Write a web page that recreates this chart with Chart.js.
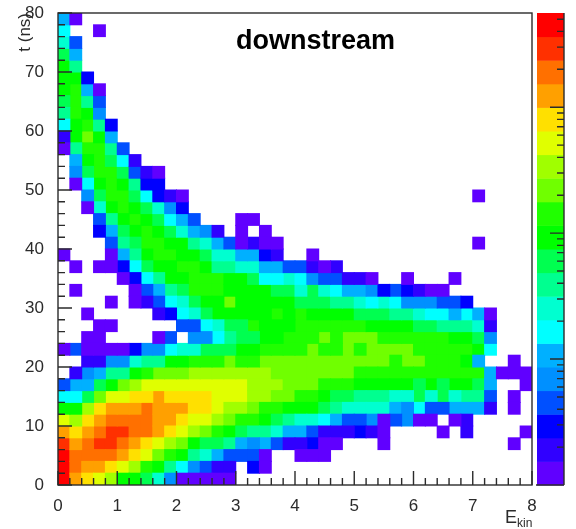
<!DOCTYPE html>
<html>
<head>
<meta charset="utf-8">
<script src="https://cdn.jsdelivr.net/npm/chart.js@4"></script>
<style>
  html, body { margin: 0; padding: 0; background: #fff; overflow: hidden; }
  canvas { display: block; }
</style>
</head>
<body>
<canvas id="chart" width="576" height="529"></canvas>
<script>
// palette of the colour bar, bottom to top
const paletteColors = [
  "#6000ff", "#3000ff", "#0000ff", "#0050ff", "#0090ff",
  "#00b0ff", "#00ffff", "#00ffd0", "#00ff90", "#00ff50",
  "#00ff00", "#20ff00", "#70ff00", "#a0ff00", "#e0ff00",
  "#ffe000", "#ffa000", "#ff7000", "#ff3000", "#ff0000"
];
const levelCodes = "0123456789abcdefghij";

// histogram cells, one string per t bin (top bin first), one char per E bin.
// each char is the palette level, "." = empty bin
const cellRows = [
  "50",
  "6..0",
  "73",
  "95",
  "a8",
  "aa2",
  "ab50",
  "9b83",
  "8ba4",
  "6ab82",
  "1aca5",
  "08bb83",
  ".5ab961",
  ".49bb9310",
  ".06aba822",
  "..49bb96210........................0",
  "..07aba9742",
  "...38aba9653...00",
  "...259aba97541.0.0",
  "....389bbaa87530100................0",
  "0...058abbaa9775521..0",
  ".0.00269aabba88775533101",
  ".....0268aabbbaa96676433110..0...0",
  ".0....03589bbbaaaa997976554232100",
  "....0.013679aacaaaaa999887676444332",
  "..0.....12679aaaaababaaaa999887665650",
  "...00.....336799baaabbbbbbaaaa9988871",
  "..00....03.446899aabbbcbcccbbbbbbaa94",
  "030000244677999aabbbbcbbcbccccbbbbba6",
  "..1144788aabbbcbbcccccccccccbccbbba5..0",
  ".14588abcccdddddddcccccccbbbbbbbbbbb5000",
  "3559acdeeeeeeeeedddcccbbbaaaaa9a9aa95..0",
  "669ceeffgffffeeeddccbba99888779797883.0",
  "aadfggghgggffeddcbbaaa987777546335551.0",
  "edfghhhhggfeedcbba98776533403400.01",
  "gfghiihhgfedcba98875531112 10....0.1....0".replace(" ", ""),
  "ighiihgfedca998545311200...0..........0",
  "jhhhhgfecba8753330..000",
  "jhggfedba864311.20",
  "jgfedaa97400000"
];

const eMax = 8, eBinWidth = 0.2;
const tMax = 80, tBinWidth = 2;
const zMin = 1, zMax = 5600;
const zDecades = { 1: "1", 10: "10", 100: "10\u00b2", 1000: "10\u00b3" };
const zTicks = [1, 2, 3, 4, 5, 6, 7, 8, 9, 10, 20, 30, 40, 50, 60, 70, 80, 90,
  100, 200, 300, 400, 500, 600, 700, 800, 900, 1000, 2000, 3000, 4000, 5000];

const axisFont = { family: "'Liberation Sans', Arial, sans-serif", size: 17 };
const inkColor = "#2b2b2b";

// one floating-bar dataset per palette level
const levelCells = paletteColors.map(() => []);
cellRows.forEach((row, r) => {
  const tHigh = tMax - r * tBinWidth;
  [...row].forEach((code, c) => {
    if (code === ".") return;
    levelCells[levelCodes.indexOf(code)].push({
      x: (c + 0.5) * eBinWidth,
      y: [tHigh - tBinWidth, tHigh]
    });
  });
});

const rootFrame = {
  id: "rootFrame",
  afterDatasetsDraw(chart) {
    const { ctx, chartArea: area, scales } = chart;
    const { x, y, z } = scales;
    ctx.save();

    // colour bar
    const barLeft = 537, barRight = 564;
    paletteColors.forEach((color, i) => {
      const bottom = z.getPixelForValue(Math.pow(zMax, i / paletteColors.length));
      const top = z.getPixelForValue(Math.pow(zMax, (i + 1) / paletteColors.length));
      ctx.fillStyle = color;
      ctx.fillRect(barLeft, top, barRight - barLeft, bottom - top + 0.5);
    });

    ctx.strokeStyle = inkColor;
    ctx.lineWidth = 1.4;
    ctx.strokeRect(area.left, area.top, area.right - area.left, area.bottom - area.top);

    ctx.beginPath();
    ctx.moveTo(barRight, area.top);
    ctx.lineTo(barRight, area.bottom);
    ctx.moveTo(barLeft - 1, area.bottom);
    ctx.lineTo(barRight, area.bottom);

    // ticks point inwards, root style
    x.ticks.forEach((tick) => {
      const px = x.getPixelForValue(tick.value);
      const isMajor = Math.abs(tick.value - Math.round(tick.value)) < 1e-6;
      ctx.moveTo(px, area.bottom);
      ctx.lineTo(px, area.bottom - (isMajor ? 14 : 7));
    });
    y.ticks.forEach((tick) => {
      const py = y.getPixelForValue(tick.value);
      ctx.moveTo(area.left, py);
      ctx.lineTo(area.left + (tick.value % 10 === 0 ? 14 : 7), py);
    });
    z.ticks.forEach((tick) => {
      const py = z.getPixelForValue(tick.value);
      ctx.moveTo(barRight, py);
      ctx.lineTo(barRight - (zDecades[tick.value] ? 14 : 7), py);
    });
    ctx.stroke();

    // title and axis names
    ctx.fillStyle = "#000";
    ctx.textBaseline = "alphabetic";
    ctx.textAlign = "left";
    ctx.font = "bold 27px 'Liberation Sans', Arial, sans-serif";
    ctx.fillText("downstream", 236, 49);

    ctx.fillStyle = inkColor;
    ctx.font = "18px 'Liberation Sans', Arial, sans-serif";
    ctx.fillText("E", 505, 523);
    ctx.font = "12px 'Liberation Sans', Arial, sans-serif";
    ctx.fillText("kin", 517, 527);

    ctx.translate(30, 13);
    ctx.rotate(-Math.PI / 2);
    ctx.textAlign = "right";
    ctx.font = "17px 'Liberation Sans', Arial, sans-serif";
    ctx.fillText("t (ns)", 0, 0);
    ctx.restore();
  }
};

// the axis boxes are fixed, no padding for labels that stick out
const fixedBox = (side, size) => (axis) => {
  axis[side] = size;
  axis.paddingTop = axis.paddingBottom = axis.paddingLeft = axis.paddingRight = 0;
};

new Chart(document.getElementById("chart"), {
  type: "bar",
  data: {
    datasets: levelCells.map((cells, i) => ({
      label: "level " + i,
      data: cells,
      backgroundColor: paletteColors[i],
      borderWidth: 0,
      inflateAmount: 0.5,
      grouped: false,
      barPercentage: 1,
      categoryPercentage: 1
    }))
  },
  plugins: [rootFrame],
  options: {
    responsive: false,
    animation: false,
    layout: { autoPadding: false, padding: { top: 13 } },
    plugins: { legend: { display: false }, tooltip: { enabled: false } },
    scales: {
      x: {
        type: "linear",
        offset: false,
        min: 0,
        max: eMax,
        afterFit: fixedBox("height", 44),
        grid: { display: false },
        border: { display: false },
        ticks: {
          stepSize: eBinWidth,
          autoSkip: false,
          maxRotation: 0,
          padding: 3,
          color: inkColor,
          font: axisFont,
          callback: (v) => (Math.abs(v - Math.round(v)) < 1e-6 ? String(Math.round(v)) : "")
        }
      },
      y: {
        type: "linear",
        min: 0,
        max: tMax,
        afterFit: fixedBox("width", 58),
        grid: { display: false },
        border: { display: false },
        ticks: {
          stepSize: tBinWidth,
          autoSkip: false,
          padding: 6,
          color: inkColor,
          font: axisFont,
          callback: (v) => (v % 10 === 0 ? String(v) : "")
        }
      },
      z: {
        type: "logarithmic",
        position: "right",
        min: zMin,
        max: zMax,
        afterFit: fixedBox("width", 44),
        afterBuildTicks(axis) { axis.ticks = zTicks.map((value) => ({ value })); },
        grid: { display: false },
        border: { display: false },
        ticks: {
          autoSkip: false,
          padding: 38,
          color: inkColor,
          font: axisFont,
          callback: (v) => zDecades[v] || ""
        }
      }
    }
  }
});
</script>
</body>
</html>
